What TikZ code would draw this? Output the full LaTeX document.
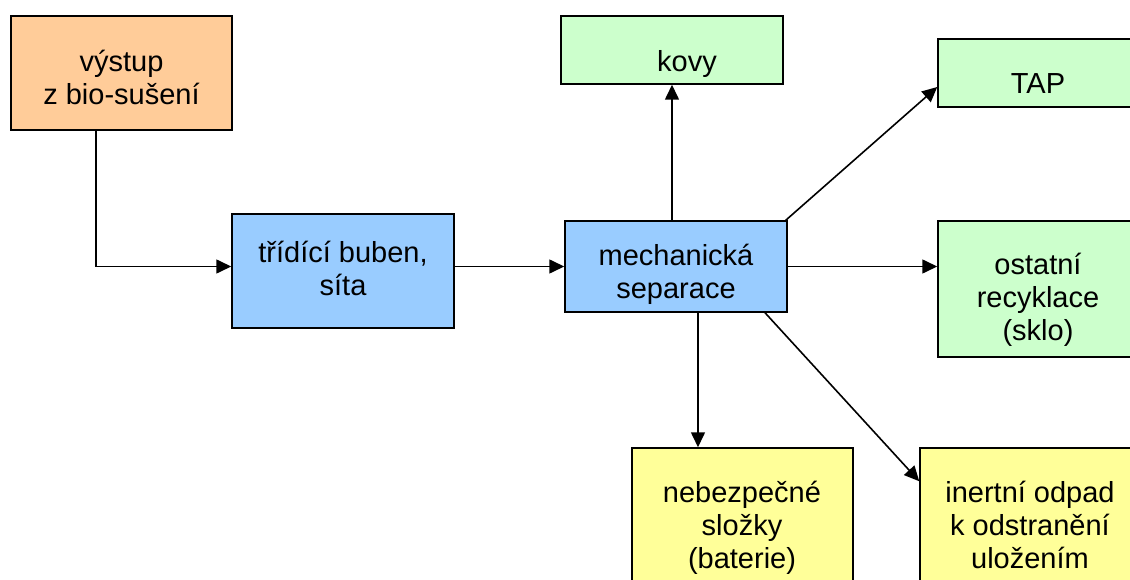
\documentclass[tikz,border=0pt]{standalone}
\usepackage{fontspec}
\setmainfont{Liberation Sans}
\usetikzlibrary{arrows.meta}

\begin{document}
\begin{tikzpicture}[x=1pt, y=-1pt,
	box/.style={draw, line width=1.5pt, inner sep=0pt},
	orangebox/.style={box, fill={rgb,255:red,255;green,204;blue,153}},
	bluebox/.style={box, fill={rgb,255:red,153;green,204;blue,255}},
	greenbox/.style={box, fill={rgb,255:red,204;green,255;blue,204}},
	yellowbox/.style={box, fill={rgb,255:red,255;green,255;blue,153}},
	lbl/.style={anchor=north, inner sep=0pt, align=center, font=\fontsize{29pt}{33pt}\selectfont},
	arr/.style={line width=1.6pt, -{Triangle[length=15pt,width=14pt]}}]
		\useasboundingbox (0,0) rectangle (1130,580);
		\clip (0,0) rectangle (1130,580);

		% Draw the boxes
		\node[orangebox, minimum width=221pt, minimum height=114pt] (vystup) at (121.5,73) {};
		\node[bluebox, minimum width=222pt, minimum height=114pt] (tridici) at (343,271) {};
		\node[bluebox, minimum width=222pt, minimum height=91pt] (mech) at (676,266.5) {};
		\node[greenbox, minimum width=222pt, minimum height=68pt] (kovy) at (672,50) {};
		\node[greenbox, minimum width=221pt, minimum height=68pt] (tap) at (1048.5,73) {};
		\node[greenbox, minimum width=221pt, minimum height=136pt] (ostatni) at (1048.5,289) {};
		\node[yellowbox, minimum width=221pt, minimum height=160pt] (nebez) at (742.5,528) {};
		\node[yellowbox, minimum width=221pt, minimum height=160pt] (inert) at (1030.5,528) {};

		% Texts in the boxes
		\node[lbl] (vystup-t) at (121.5,49) {\rule{0pt}{22pt}výstup\\z bio-sušení};
		\node[lbl] (tridici-t) at (343,240) {\rule{0pt}{22pt}třídící buben,\\síta};
		\node[lbl] (mech-t) at (676,243) {\rule{0pt}{22pt}mechanická\\separace};
		\node[lbl] (kovy-t) at (687,49) {\rule{0pt}{22pt}kovy};
		\node[lbl] (tap-t) at (1038,71) {\rule{0pt}{22pt}TAP};
		\node[lbl] (ostatni-t) at (1038,252) {\rule{0pt}{22pt}ostatní\\recyklace\\(sklo)};
		\node[lbl] (nebez-t) at (742,480) {\rule{0pt}{22pt}nebezpečné\\složky\\(baterie)};
		\node[lbl] (inert-t) at (1030,480) {\rule{0pt}{22pt}inertní odpad\\k odstranění\\uložením};

		% Draw the flows
		\draw[arr] ([xshift=-25.5pt]vystup.south) |- (mech.west -| tridici.west);
		\draw[arr] (mech.west -| tridici.east) -- (mech.west);
		\draw[arr] (mech.north -| kovy.south) -- (kovy.south);
		\draw[arr] ([xshift=-2pt]mech.north east) -- ([yshift=-14pt]tap.west);
		\draw[arr] (mech.east) -- (mech.east -| ostatni.west);
		\draw[arr] ([xshift=22pt]mech.south) -- ([xshift=22pt]mech.south |- nebez.north);
		\draw[arr] ([xshift=89pt]mech.south) -- ([yshift=-34pt]inert.north west);

	\end{tikzpicture}
\end{document}
